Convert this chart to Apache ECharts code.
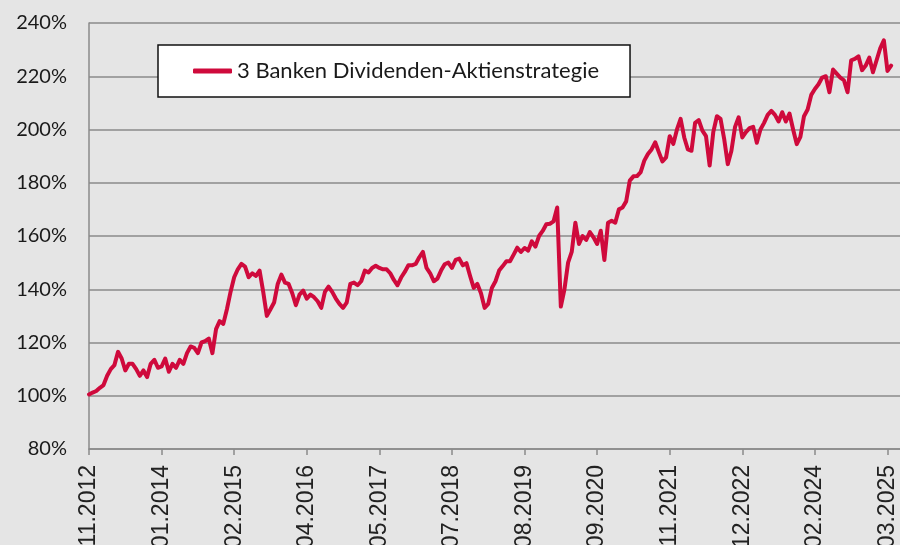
<!DOCTYPE html>
<html>
<head>
<meta charset="utf-8">
<script src="https://cdn.jsdelivr.net/npm/echarts@6/dist/echarts.min.js"></script>
<style>
html,body{margin:0;padding:0;background:#e5e5e5;}
#chart{width:900px;height:545px;}
</style>
</head>
<body>
<div id="chart"></div>
<script>
const seriesName = "3 Banken Dividenden-Aktienstrategie";
const dateLabels = ["11.2012","01.2014","02.2015","04.2016","05.2017","07.2018","08.2019","09.2020","11.2021","12.2022","02.2024","03.2025"];
const pointsPerLabel = 20;
const yTicks = [80, 100, 120, 140, 160, 180, 200, 220, 240];
const values = [
  100.5,101.2,101.8,103,104,107.5,110,111.5,116.5,114,
  109.5,112,112,110,107.5,109.5,107,112,113.5,110.5,
  111,114,109,112,110.5,113.5,112,116,118.5,118,
  116,120,120.5,121.5,116,125,128,127,132.5,139,
  144.5,147.5,149.5,148.5,144.5,146,145,147,139,130,
  132.5,135,142,145.5,142.5,142,138.5,134,138,139.5,
  136.5,138,137,135.5,133,139,141,139,136.5,134.5,
  133,135,142,142.5,141.5,143,147,146.3,148,148.8,
  148,147.5,147.5,146,143.5,141.5,144.4,146.5,149,149,
  149.5,152,154,148,146,143,144,147,149.4,150,
  148,151,151.5,149,149.8,145,140.5,142,138.5,133,
  134.5,140.5,143,147,148.7,150.5,150.5,153,155.6,154,
  155.5,154.5,158,156,160,161.9,164.4,164.6,165.5,170.7,
  133.5,140,150,154,165,157,160,158.5,161.5,159.5,
  157,162,151,165,165.7,165,170,170.7,173,180.8,
  182.4,182.5,184,188.3,190.8,192.5,195.2,191.5,188,189.5,
  197.5,194.6,200,204,197,192.5,192,202.5,203.5,199.6,
  197.5,186.5,199,205,204,196.5,187,192,201,204.6,
  197,199,200.5,201,195,200,202.5,205.5,207,205.5,
  203,206.5,203,206,200,194.5,197.2,205,207.5,213,
  215.2,217,219.5,220,214,222.5,221,219.5,218.5,214,
  226,226.5,227.5,222.3,224,227,221.5,226,230.5,233.5,
  222,224
];

const chart = echarts.init(document.getElementById('chart'), null, {renderer:'canvas'});
const gridColor = '#8a8a8a';
const option = {
  backgroundColor: '#e5e5e5',
  animation: false,
  grid: {left: 89, top: 23, bottom: 96, right: -2, containLabel: false, outerBoundsMode: 'none'},
  legend: {
    show: true,
    left: 158, top: 45,
    padding: [15, 31, 15, 35],
    backgroundColor: '#ffffff',
    borderColor: '#111111',
    borderWidth: 1.5,
    borderRadius: 0,
    icon: 'roundRect',
    itemWidth: 39, itemHeight: 5,
    textStyle: {fontFamily: 'Lato', fontSize: 22, color: '#1a1a1a'},
    data: [seriesName]
  },
  xAxis: {
    type: 'value',
    min: 0,
    max: 224,
    interval: pointsPerLabel,
    splitLine: {show: false},
    axisLine: {show: true, lineStyle: {color: gridColor, width: 1.5}},
    axisTick: {show: true, length: 6, lineStyle: {color: gridColor, width: 1.5}},
    axisLabel: {
      rotate: 90,
      margin: 16,
      showMaxLabel: false,
      fontFamily: 'Liberation Sans',
      fontSize: 23,
      color: '#222222',
      formatter: function (v) {
        const k = v / pointsPerLabel;
        return Number.isInteger(k) && dateLabels[k] ? dateLabels[k] : '';
      }
    }
  },
  yAxis: {
    type: 'value',
    min: yTicks[0],
    max: yTicks[yTicks.length - 1],
    interval: 20,
    axisLine: {show: true, lineStyle: {color: gridColor, width: 1.5}},
    axisTick: {show: false},
    splitLine: {show: true, lineStyle: {color: gridColor, width: 1.5}},
    axisLabel: {
      margin: 22,
      fontFamily: 'Lato',
      fontSize: 20,
      color: '#1a1a1a',
      formatter: '{value}%'
    }
  },
  series: [{
    name: seriesName,
    type: 'line',
    data: values.map((v, i) => [i, v]),
    showSymbol: false,
    symbol: 'none',
    smooth: false,
    color: '#cf0a3c',
    lineStyle: {color: '#cf0a3c', width: 4, join: 'round', cap: 'round'},
    z: 3
  }]
};
chart.setOption(option);
</script>
</body>
</html>
